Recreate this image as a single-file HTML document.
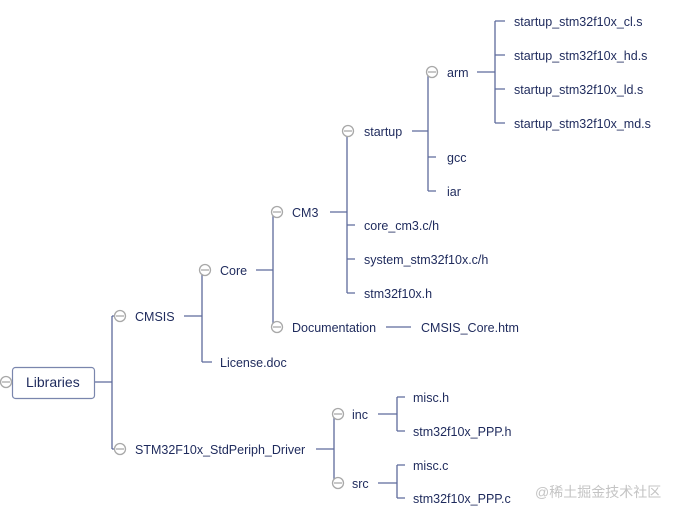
<!DOCTYPE html>
<html><head><meta charset="utf-8"><style>
html,body{margin:0;padding:0;background:#fff;width:678px;height:515px;overflow:hidden}
svg text{font-family:"Liberation Sans",Arial,sans-serif;font-size:12.5px;fill:#1e2a5c}
</style></head><body>
<svg width="678" height="515" viewBox="0 0 678 515">
<g stroke="#5d6a9c" stroke-width="1.3" fill="none">
<path d="M95 382H112M112 316V449M112 316H120M112 449H120"/>
<path d="M184 316H202M202 270V362M202 270H206M202 362H212"/>
<path d="M256 270H273M273 212V327M273 212H277M273 327H277"/>
<path d="M330 212H347M347 131V293M347 225H355M347 259H355M347 293H355"/>
<path d="M412 131H428M428 72V191M428 72H432M428 157H436M428 191H436"/>
<path d="M477 72H495M495 21V123M495 21H505M495 55H505M495 89H505M495 123H505"/>
<path d="M386 327H411"/>
<path d="M316 449H334M334 414V483M334 414H338M334 483H338"/>
<path d="M378 414H397M397 397V431M397 397H405M397 431H405"/>
<path d="M378 483H397M397 465V498M397 465H405M397 498H405"/>
</g>
<rect x="12.5" y="367.5" width="82" height="31" rx="3" fill="#fff" stroke="#7a86ad" stroke-width="1.2"/>
<g fill="#fff" stroke="#a8a8a8" stroke-width="1.3">
<circle cx="6" cy="382" r="5.5"/>
<circle cx="120" cy="316" r="5.5"/>
<circle cx="120" cy="449" r="5.5"/>
<circle cx="205" cy="270" r="5.5"/>
<circle cx="277" cy="212" r="5.5"/>
<circle cx="277" cy="327" r="5.5"/>
<circle cx="348" cy="131" r="5.5"/>
<circle cx="432" cy="72" r="5.5"/>
<circle cx="338" cy="414" r="5.5"/>
<circle cx="338" cy="483" r="5.5"/>
</g>
<g stroke="#a8a8a8" stroke-width="1.3">
<path d="M2 382H10M116 316H124M116 449H124M201 270H209M273 212H281M273 327H281M344 131H352M428 72H436M334 414H342M334 483H342"/>
</g>
<text x="26" y="387" style="font-size:14px">Libraries</text>
<text x="135" y="321">CMSIS</text>
<text x="135" y="454">STM32F10x_StdPeriph_Driver</text>
<text x="220" y="275">Core</text>
<text x="220" y="367">License.doc</text>
<text x="292" y="217">CM3</text>
<text x="292" y="332">Documentation</text>
<text x="421" y="332">CMSIS_Core.htm</text>
<text x="364" y="136">startup</text>
<text x="364" y="230">core_cm3.c/h</text>
<text x="364" y="264">system_stm32f10x.c/h</text>
<text x="364" y="298">stm32f10x.h</text>
<text x="447" y="77">arm</text>
<text x="447" y="162">gcc</text>
<text x="447" y="196">iar</text>
<text x="514" y="26">startup_stm32f10x_cl.s</text>
<text x="514" y="60">startup_stm32f10x_hd.s</text>
<text x="514" y="94">startup_stm32f10x_ld.s</text>
<text x="514" y="128">startup_stm32f10x_md.s</text>
<text x="352" y="419">inc</text>
<text x="352" y="488">src</text>
<text x="413" y="402">misc.h</text>
<text x="413" y="436">stm32f10x_PPP.h</text>
<text x="413" y="470">misc.c</text>
<text x="413" y="503">stm32f10x_PPP.c</text>
<text x="535" y="497" style="font-family:'Liberation Sans','Noto Sans CJK SC',sans-serif;font-size:14px;fill:#c4c4c4">@稀土掘金技术社区</text>
</svg>
</body></html>
